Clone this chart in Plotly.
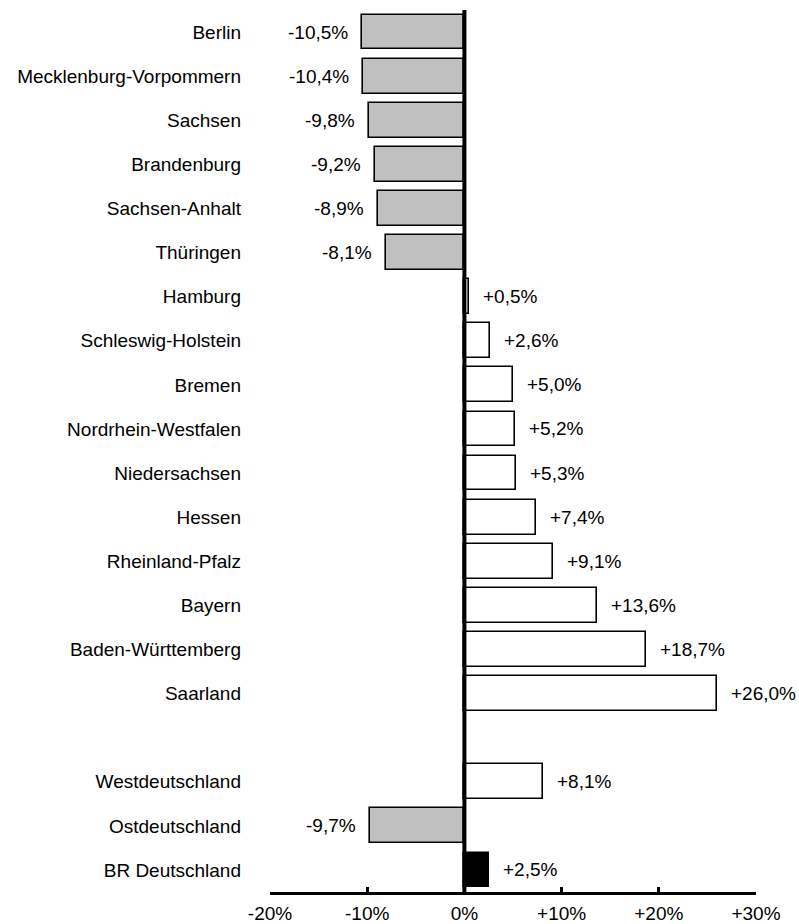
import plotly.graph_objects as go

categories = ["Berlin", "Mecklenburg-Vorpommern", "Sachsen", "Brandenburg", "Sachsen-Anhalt",
              "Thüringen", "Hamburg", "Schleswig-Holstein", "Bremen", "Nordrhein-Westfalen",
              "Niedersachsen", "Hessen", "Rheinland-Pfalz", "Bayern", "Baden-Württemberg",
              "Saarland", "", "Westdeutschland", "Ostdeutschland", "BR Deutschland"]
values = [-10.5, -10.4, -9.8, -9.2, -8.9, -8.1, 0.5, 2.6, 5.0, 5.2, 5.3, 7.4, 9.1, 13.6,
          18.7, 26.0, None, 8.1, -9.7, 2.5]
x_tickvals = [-20, -10, 0, 10, 20, 30]
x_ticktext = ["-20%", "-10%", "0%", "+10%", "+20%", "+30%"]
total_name = "BR Deutschland"

FONT = "Arial, Liberation Sans, sans-serif"
FS = 19

pos = list(range(len(categories)))
ys, xs, colors = [], [], []
for p, c, v in zip(pos, categories, values):
    if v is None:
        continue
    ys.append(p)
    xs.append(v)
    if c == total_name:
        colors.append("#000000")
    elif v < 0:
        colors.append("#c0c0c0")
    else:
        colors.append("#ffffff")

fig = go.Figure()
fig.add_trace(go.Bar(
    x=xs, y=ys, orientation="h", width=0.79,
    marker=dict(color=colors, line=dict(color="#000000", width=1.6)),
    hoverinfo="skip", showlegend=False,
))

def fmt(v):
    s = f"{abs(v):.1f}".replace(".", ",")
    return ("+" if v >= 0 else "-") + s + "%"

annotations = []
for y, v in zip(ys, xs):
    annotations.append(dict(
        x=v, y=y, xref="x", yref="y", text=fmt(v), showarrow=False,
        xanchor="left" if v >= 0 else "right",
        xshift=12 if v >= 0 else -12,
        yanchor="middle",
        font=dict(family=FONT, size=FS, color="#000000"),
    ))

fig.update_layout(
    width=799, height=924,
    margin=dict(l=270, r=43, t=10, b=32, autoexpand=False),
    plot_bgcolor="#ffffff", paper_bgcolor="#ffffff",
    bargap=0,
    annotations=annotations,
    shapes=[dict(type="line", xref="x", yref="paper", x0=0, x1=0, y0=0, y1=1,
                 line=dict(color="#000000", width=4), layer="above")],
    font=dict(family=FONT, size=FS, color="#000000"),
)
fig.update_xaxes(
    range=[-20, 30], tickvals=x_tickvals, ticktext=x_ticktext,
    showgrid=False, zeroline=False,
    showline=True, linecolor="#000000", linewidth=3,
    ticks="inside", ticklen=5, tickwidth=3, tickcolor="#000000",
    ticklabelstandoff=2,
    tickfont=dict(family=FONT, size=FS, color="#000000"),
)
fig.update_yaxes(
    range=[len(categories) - 0.5, -0.5], tickvals=pos, ticktext=categories,
    showgrid=False, zeroline=False, showline=False, ticks="",
    ticklabelstandoff=28,
    tickfont=dict(family=FONT, size=FS, color="#000000"),
)

fig.write_html(
    "out.html",
    config={"displayModeBar": False},
    post_script=("document.documentElement.style.margin='0';document.body.style.margin='0';"
                 "document.documentElement.style.overflow='hidden';document.body.style.overflow='hidden';"),
)
